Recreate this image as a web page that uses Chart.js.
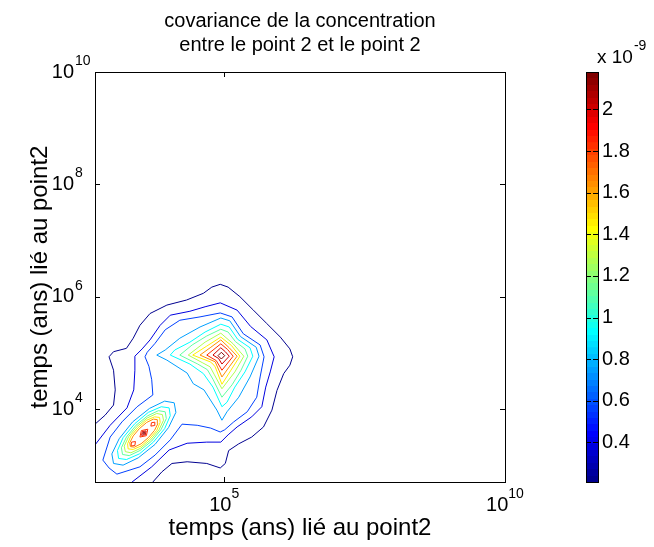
<!DOCTYPE html>
<html>
<head>
<meta charset="utf-8">
<script src="https://cdn.jsdelivr.net/npm/chart.js@4.4.1/dist/chart.umd.min.js"></script>
<style>
html,body{margin:0;padding:0;background:#fff;overflow:hidden}
#wrap{position:relative;width:654px;height:547px;background:#fff}
#main{position:absolute;left:0;top:0}
#cbar{position:absolute;left:560px;top:0}
</style>
</head>
<body>
<div id="wrap">
<canvas id="main" width="600" height="547"></canvas>
<canvas id="cbar" width="94" height="547"></canvas>
</div>
<script>
// ---------- data ----------
const TITLE_LINES = ['covariance de la concentration', 'entre le point 2 et le point 2'];
const X_LABEL = 'temps (ans) lié au point2';
const Y_LABEL = 'temps (ans) lié au point2';
const AXIS_MIN_EXP = 2.7, AXIS_MAX_EXP = 10;       // log10 limits of both axes
const X_TICK_EXP = [5, 10];
const Y_TICK_EXP = [4, 6, 8, 10];
const CB_MIN = 0.21, CB_MAX = 2.18;                 // colour limits (x 1e-9)
const CB_TICKS = [0.4, 0.6, 0.8, 1.0, 1.2, 1.4, 1.6, 1.8, 2.0];
const CB_EXPONENT = '-9';
const LEVELS = [0.21, 0.39, 0.57, 0.75, 0.93, 1.11, 1.28, 1.46, 1.64, 1.82, 2.00, 2.18];

// contour lines, points are [log10 x, log10 y]
const L1 = [[2.70,3.73],[2.88,3.89],[3.03,4.07],[3.06,4.34],[3.03,4.69],[2.95,4.93],[3.03,5.02],[3.26,5.08],[3.38,5.26],[3.50,5.49],[3.68,5.70],[3.98,5.85],[4.33,5.94],[4.63,6.06],[4.78,6.17],[4.93,6.22],[5.07,6.17],[5.28,6.00],[5.52,5.76],[5.76,5.52],[6.00,5.28],[6.17,5.07],[6.22,4.93],[6.17,4.78],[6.06,4.63],[5.94,4.33],[5.85,3.98],[5.70,3.68],[5.49,3.50],[5.26,3.38],[5.08,3.26],[5.02,3.03],[4.93,2.95],[4.69,3.03],[4.34,3.06],[4.07,3.03],[3.89,2.88],[3.73,2.70]];
const L2 = [[2.70,3.36],[2.97,3.71],[3.27,4.02],[3.39,4.34],[3.41,4.69],[3.41,4.94],[3.54,5.07],[3.68,5.23],[3.86,5.49],[4.04,5.67],[4.39,5.74],[4.66,5.82],[4.93,5.89],[5.23,5.76],[5.47,5.47],[5.76,5.23],[5.89,4.93],[5.82,4.66],[5.74,4.39],[5.67,4.04],[5.49,3.86],[5.23,3.68],[5.07,3.54],[4.94,3.41],[4.69,3.41],[4.34,3.39],[4.02,3.27],[3.71,2.97],[3.36,2.70]];
const L3 = [[5.34,5.34],[5.14,5.64],[4.93,5.71],[4.57,5.64],[4.21,5.58],[3.95,5.41],[3.77,5.17],[3.63,5.01],[3.59,4.93],[3.66,4.76],[3.71,4.52],[3.73,4.25],[3.45,4.04],[3.18,3.77],[2.97,3.50],[2.84,3.09],[2.95,2.95],[3.09,2.84],[3.50,2.97],[3.77,3.18],[4.04,3.45],[4.25,3.73],[4.52,3.71],[4.76,3.66],[4.93,3.59],[5.01,3.63],[5.17,3.77],[5.41,3.95],[5.58,4.21],[5.64,4.57],[5.71,4.93],[5.64,5.14],[5.34,5.34]];
// main peak
const L4A = [[5.29,5.29],[5.10,5.57],[4.94,5.62],[4.57,5.46],[4.21,5.26],[3.95,5.05],[3.80,4.96],[3.98,4.87],[4.34,4.64],[4.45,4.45],[4.64,4.34],[4.87,3.98],[4.96,3.80],[5.05,3.95],[5.26,4.21],[5.46,4.57],[5.62,4.94],[5.57,5.10],[5.29,5.29]];
const L5A = [[5.24,5.24],[5.09,5.46],[4.94,5.51],[4.66,5.37],[4.39,5.19],[4.12,5.05],[4.04,4.96],[4.39,4.80],[4.63,4.63],[4.80,4.39],[4.96,4.04],[5.05,4.12],[5.19,4.39],[5.37,4.66],[5.51,4.94],[5.46,5.09],[5.24,5.24]];
const L6A = [[5.20,5.20],[5.07,5.37],[4.94,5.42],[4.69,5.30],[4.43,5.14],[4.21,4.96],[4.53,4.80],[4.70,4.70],[4.80,4.53],[4.96,4.21],[5.14,4.43],[5.30,4.69],[5.42,4.94],[5.37,5.07],[5.20,5.20]];
const L7A = [[5.16,5.16],[4.94,5.35],[4.66,5.19],[4.36,4.96],[4.62,4.82],[4.75,4.75],[4.82,4.62],[4.96,4.36],[5.19,4.66],[5.35,4.94],[5.16,5.16]];
const L8A = [[5.13,5.13],[4.94,5.28],[4.69,5.12],[4.44,4.96],[4.75,4.84],[4.80,4.80],[4.84,4.75],[4.96,4.44],[5.12,4.69],[5.28,4.94],[5.13,5.13]];
const L9A = [[5.09,5.09],[4.94,5.23],[4.75,5.09],[4.57,4.96],[4.84,4.84],[4.96,4.57],[5.09,4.75],[5.23,4.94],[5.09,5.09]];
const L10A = [[5.06,5.06],[4.94,5.16],[4.69,4.96],[4.86,4.86],[4.96,4.69],[5.16,4.94],[5.06,5.06]];
const L11A = [[5.02,5.02],[4.94,5.09],[4.80,4.96],[4.90,4.90],[4.96,4.80],[5.09,4.94],[5.02,5.02]];
const L12A = [[4.95,5.01],[4.89,4.95],[4.95,4.89],[5.01,4.95],[4.95,5.01]];
// second (small) peak
const L4B = [[4.11,4.11],[3.94,4.14],[3.67,4.01],[3.37,3.77],[3.13,3.47],[3.00,3.20],[3.03,3.03],[3.20,3.00],[3.47,3.13],[3.77,3.37],[4.01,3.67],[4.14,3.94],[4.11,4.11]];
const L5B = [[4.02,4.02],[3.88,4.04],[3.65,3.94],[3.41,3.74],[3.20,3.49],[3.10,3.26],[3.12,3.12],[3.26,3.10],[3.49,3.20],[3.74,3.41],[3.94,3.65],[4.04,3.88],[4.02,4.02]];
const L6B = [[3.95,3.95],[3.83,3.97],[3.64,3.88],[3.43,3.71],[3.26,3.50],[3.17,3.31],[3.19,3.19],[3.31,3.17],[3.50,3.26],[3.71,3.43],[3.88,3.64],[3.97,3.83],[3.95,3.95]];
const L7B = [[3.90,3.90],[3.80,3.92],[3.63,3.84],[3.45,3.69],[3.30,3.51],[3.22,3.34],[3.24,3.24],[3.34,3.22],[3.51,3.30],[3.69,3.45],[3.84,3.63],[3.92,3.80],[3.90,3.90]];
const L8B = [[3.85,3.85],[3.76,3.86],[3.62,3.80],[3.47,3.67],[3.34,3.52],[3.28,3.38],[3.29,3.29],[3.38,3.28],[3.52,3.34],[3.67,3.47],[3.80,3.62],[3.86,3.76],[3.85,3.85]];
const L9B = [[3.81,3.81],[3.74,3.82],[3.62,3.76],[3.49,3.65],[3.38,3.52],[3.32,3.40],[3.33,3.33],[3.40,3.32],[3.52,3.38],[3.65,3.49],[3.76,3.62],[3.82,3.74],[3.81,3.81]];
const L10B1 = [[3.42,3.42],[3.35,3.41],[3.34,3.34],[3.41,3.35],[3.42,3.42]];
const L10B2 = [[3.64,3.64],[3.525,3.615],[3.50,3.50],[3.615,3.525],[3.64,3.64]];
const L10B3 = [[3.765,3.765],[3.705,3.755],[3.695,3.695],[3.755,3.705],[3.765,3.765]];
const L11B = [[3.61,3.61],[3.542,3.598],[3.53,3.53],[3.598,3.542],[3.61,3.61]];
const L12B = [[3.588,3.588],[3.558,3.582],[3.552,3.552],[3.582,3.558],[3.588,3.588]];

// [index into LEVELS, line]
const CONTOURS = [[0,L1],[1,L2],[2,L3],[3,L4A],[4,L5A],[5,L6A],[6,L7A],[7,L8A],[8,L9A],[9,L10A],[10,L11A],[11,L12A],
  [3,L4B],[4,L5B],[5,L6B],[6,L7B],[7,L8B],[8,L9B],[9,L10B1],[9,L10B2],[9,L10B3],[10,L11B],[11,L12B]];

// ---------- styling helpers ----------
const FONT_FAMILY = "'Liberation Sans', Arial, Helvetica, sans-serif";
Chart.defaults.font.family = FONT_FAMILY;
Chart.defaults.font.size = 20;
Chart.defaults.color = '#000';

function jet64(i) { // i = 1..64, MATLAB jet(64)
  let r = 0, g = 0, b = 0;
  if (i <= 8) b = 0.5 + i / 16;
  else if (i <= 24) { b = 1; g = (i - 8) / 16; }
  else if (i <= 40) { g = 1; r = (i - 24) / 16; b = 1 - (i - 24) / 16; }
  else if (i <= 56) { r = 1; g = 1 - (i - 40) / 16; }
  else { r = 1 - (i - 56) / 16; }
  return `rgb(${Math.round(r*255)},${Math.round(g*255)},${Math.round(b*255)})`;
}
function colorForValue(v) {
  let idx = Math.floor((v - CB_MIN) / (CB_MAX - CB_MIN) * 64) + 1;
  idx = Math.max(1, Math.min(64, idx));
  return jet64(idx);
}

const datasets = CONTOURS.map(([li, line]) => ({
  data: line.map(([ex, ey]) => ({ x: Math.pow(10, ex), y: Math.pow(10, ey) })),
  showLine: true,
  borderColor: colorForValue(LEVELS[li]),
  borderWidth: 1,
  pointRadius: 0,
  tension: 0,
  fill: false
}));

const BASE_FONT = `20px ${FONT_FAMILY}`;
const EXP_FONT = `14px ${FONT_FAMILY}`;

const axesPlugin = {
  id: 'matlabAxes',
  afterDraw(chart) {
    const { ctx, chartArea: a, scales } = chart;
    const sx = scales.x, sy = scales.y;
    ctx.save();
    ctx.strokeStyle = '#000';
    ctx.lineWidth = 1;
    ctx.strokeRect(a.left + 0.5, a.top + 0.5, a.right - a.left, a.bottom - a.top);
    ctx.beginPath();
    sx.ticks.forEach(t => {
      const p = Math.round(sx.getPixelForValue(t.value)) + 0.5;
      ctx.moveTo(p, a.bottom); ctx.lineTo(p, a.bottom - 5);
      ctx.moveTo(p, a.top); ctx.lineTo(p, a.top + 5);
    });
    sy.ticks.forEach(t => {
      const p = Math.round(sy.getPixelForValue(t.value)) + 0.5;
      ctx.moveTo(a.left, p); ctx.lineTo(a.left + 5, p);
      ctx.moveTo(a.right, p); ctx.lineTo(a.right - 5, p);
    });
    ctx.stroke();
    ctx.fillStyle = '#000';
    ctx.textBaseline = 'middle';
    sx.ticks.forEach(t => {
      const e = String(Math.round(Math.log10(t.value)));
      ctx.font = BASE_FONT; const wb = ctx.measureText('10').width;
      ctx.font = EXP_FONT; const we = ctx.measureText(e).width;
      const p = sx.getPixelForValue(t.value);
      const x0 = p - (wb + we) / 2;
      ctx.textAlign = 'left';
      ctx.font = BASE_FONT; ctx.fillText('10', x0, a.bottom + 23);
      ctx.font = EXP_FONT; ctx.fillText(e, x0 + wb, a.bottom + 12);
    });
    sy.ticks.forEach(t => {
      const e = String(Math.round(Math.log10(t.value)));
      const p = sy.getPixelForValue(t.value);
      ctx.font = BASE_FONT; ctx.textAlign = 'right'; ctx.fillText('10', a.left - 21, p);
      ctx.font = EXP_FONT; ctx.textAlign = 'left'; ctx.fillText(e, a.left - 20, p - 11);
    });
    ctx.restore();
  }
};

new Chart(document.getElementById('main'), {
  type: 'scatter',
  data: { datasets },
  options: {
    responsive: false, animation: false, devicePixelRatio: 1, events: [],
    layout: { padding: 0 },
    plugins: {
      legend: { display: false }, tooltip: { enabled: false },
      title: { display: true, text: TITLE_LINES, color: '#000', font: { size: 20, weight: 'normal', lineHeight: 1.2 }, padding: { top: 9, bottom: 15 } }
    },
    scales: {
      x: {
        type: 'logarithmic', position: 'bottom',
        min: Math.pow(10, AXIS_MIN_EXP), max: Math.pow(10, AXIS_MAX_EXP),
        afterBuildTicks: s => { s.ticks = X_TICK_EXP.map(e => ({ value: Math.pow(10, e) })); },
        ticks: { display: false }, grid: { display: false, drawTicks: false }, border: { display: false },
        title: { display: true, text: X_LABEL, color: '#000', font: { size: 24, lineHeight: 1.2 }, padding: { top: 0, bottom: 4 } },
        afterFit: s => { s.height = 65; }
      },
      y: {
        type: 'logarithmic', position: 'left',
        min: Math.pow(10, AXIS_MIN_EXP), max: Math.pow(10, AXIS_MAX_EXP),
        afterBuildTicks: s => { s.ticks = Y_TICK_EXP.map(e => ({ value: Math.pow(10, e) })); },
        ticks: { display: false }, grid: { display: false, drawTicks: false }, border: { display: false },
        title: { display: true, text: Y_LABEL, color: '#000', font: { size: 24, lineHeight: 1.2 }, padding: { top: 26, bottom: 0 } },
        afterFit: s => { s.width = 95; }
      },
      yR: {
        type: 'linear', position: 'right', display: true,
        ticks: { display: false }, grid: { display: false, drawTicks: false }, border: { display: false },
        afterFit: s => { s.width = 95; }
      }
    }
  },
  plugins: [axesPlugin]
});

// ---------- colour bar ----------
function jetGradient(context) {
  const chart = context.chart;
  const a = chart.chartArea;
  if (!a) return jet64(32);
  const g = chart.ctx.createLinearGradient(0, a.bottom, 0, a.top);
  for (let i = 1; i <= 64; i++) {
    const c = jet64(i);
    g.addColorStop((i - 1) / 64, c);
    g.addColorStop(Math.min(1, i / 64 - 0.0001), c);
  }
  return g;
}

const cbPlugin = {
  id: 'cbFrame',
  afterDraw(chart) {
    const { ctx, chartArea: a, scales } = chart;
    const sy = scales.y;
    ctx.save();
    ctx.strokeStyle = '#000';
    ctx.lineWidth = 1;
    ctx.strokeRect(a.left + 0.5, a.top + 0.5, a.right - a.left, a.bottom - a.top);
    ctx.beginPath();
    sy.ticks.forEach(t => {
      const p = Math.round(sy.getPixelForValue(t.value)) + 0.5;
      ctx.moveTo(a.left, p); ctx.lineTo(a.left + 5, p);
      ctx.moveTo(a.right, p); ctx.lineTo(a.right - 5, p);
    });
    ctx.stroke();
    ctx.fillStyle = '#000';
    ctx.textBaseline = 'middle';
    ctx.textAlign = 'left';
    ctx.font = `19px ${FONT_FAMILY}`;
    const base = 'x 10';
    const x0 = 37;
    ctx.fillText(base, x0, 58);
    const wb = ctx.measureText(base).width;
    ctx.font = EXP_FONT;
    ctx.fillText(CB_EXPONENT, x0 + wb + 1, 46);
    ctx.restore();
  }
};

new Chart(document.getElementById('cbar'), {
  type: 'bar',
  data: {
    labels: [''],
    datasets: [{ data: [[CB_MIN, CB_MAX]], backgroundColor: jetGradient, borderWidth: 0, barPercentage: 1, categoryPercentage: 1 }]
  },
  options: {
    responsive: false, animation: false, devicePixelRatio: 1, events: [],
    layout: { padding: { left: 26, top: 72, bottom: 65, right: 0 } },
    plugins: { legend: { display: false }, tooltip: { enabled: false } },
    scales: {
      x: { display: false },
      y: {
        type: 'linear', position: 'right', min: CB_MIN, max: CB_MAX,
        afterBuildTicks: s => { s.ticks = CB_TICKS.map(v => ({ value: v })); },
        ticks: { padding: 4, color: '#000', font: { size: 20 }, callback: v => String(Math.round(v * 10) / 10) },
        grid: { display: false, drawTicks: false }, border: { display: false },
        afterFit: s => { s.width = 56; }
      }
    }
  },
  plugins: [cbPlugin]
});
</script>
</body>
</html>
